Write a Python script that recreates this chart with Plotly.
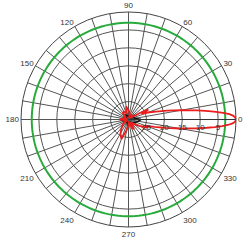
import numpy as np
import plotly.graph_objects as go

# ---- data ----
pattern_theta = [0, 1, 2, 3, 4, 5, 6, 7.5, 10, 13, 16, 20, 23, 27, 30, 35, 40, 50, 60, 70,
                 80, 90, 100, 110, 120, 130, 140, 150, 160, 170, 180, 190, 200, 210, 220,
                 230, 240, 250, 260, 270, 280, 290, 300, 310, 320, 330, 335, 337, 340, 344,
                 347, 350, 352.5, 354, 355, 356, 357, 358, 359, 360]
pattern_db = [0, -0.2, -0.7, -1.8, -3.5, -5.5, -7.5, -10.5, -15.0, -19.0, -22.0, -24.3, -26.0,
              -23.8, -26.5, -29.0, -28.0, -29.5, -28.5, -29.5, -28.0, -27.5, -26.3, -28.0,
              -27.5, -27.5, -29.0, -28.5, -29.5, -28.5, -27.5, -29.0, -28.5, -29.5, -28.0,
              -27.0, -25.5, -24.2, -27.0, -28.5, -29.5, -27.5, -27.0, -29.0, -28.0, -26.5,
              -25.0, -24.0, -25.0, -22.5, -19.5, -15.5, -11.0, -8.0, -5.8, -3.8, -2.0,
              -0.8, -0.2, 0]
cross_theta = [0, 20, 45, 70, 90, 120, 150, 170, 180, 200, 230, 260, 290, 320, 345, 360]
cross_db = [-26.5, -28.5, -29.2, -28.8, -29.0, -28.6, -29.3, -28.4, -27.8, -28.6, -29.2,
            -28.7, -29.3, -28.5, -27.5, -26.5]
half_power_db = -3
radial_tickvals = [-25, -20, -15, -10, -5]
radial_ticktext = ["25", "20", "15", "10", "5"]
angle_labels = ["0", "30", "60", "90", "120", "150", "180", "210", "240", "270", "300", "330"]

circle_theta = np.arange(0, 361, 2)
grid_theta = list(range(0, 360, 10))
grid_text = [angle_labels[a // 30] if a % 30 == 0 else "" for a in grid_theta]

fig = go.Figure()
fig.add_trace(go.Scatterpolar(
    theta=circle_theta, r=[half_power_db] * len(circle_theta),
    mode="lines", line=dict(color="rgb(40,170,60)", width=2), hoverinfo="skip"))
fig.add_trace(go.Scatterpolar(
    theta=cross_theta, r=cross_db, mode="lines",
    line=dict(color="#111", width=1.5)))
fig.add_trace(go.Scatterpolar(
    theta=pattern_theta, r=pattern_db, mode="lines",
    line=dict(color="rgb(235,30,30)", width=1.8)))

fig.update_layout(
    width=248, height=241,
    margin=dict(l=21, r=12, t=12, b=14),
    paper_bgcolor="white", plot_bgcolor="white",
    showlegend=False,
    polar=dict(
        bgcolor="white",
        domain=dict(x=[0, 1], y=[0, 1]),
        radialaxis=dict(
            range=[-30, 0], angle=0, tickangle=0,
            tickvals=radial_tickvals, ticktext=radial_ticktext,
            showline=True, linecolor="#333", linewidth=1,
            gridcolor="#555", gridwidth=1, ticks="",
            tickfont=dict(size=8, color="#333", family="Arial"),
        ),
        angularaxis=dict(
            rotation=0, direction="counterclockwise",
            tickmode="array", tickvals=grid_theta, ticktext=grid_text,
            showline=True, linecolor="#444", linewidth=1,
            gridcolor="#555", gridwidth=1, ticks="",
            tickfont=dict(size=8, color="#333", family="Arial"),
        ),
    ),
)
fig.write_html("out.html")
